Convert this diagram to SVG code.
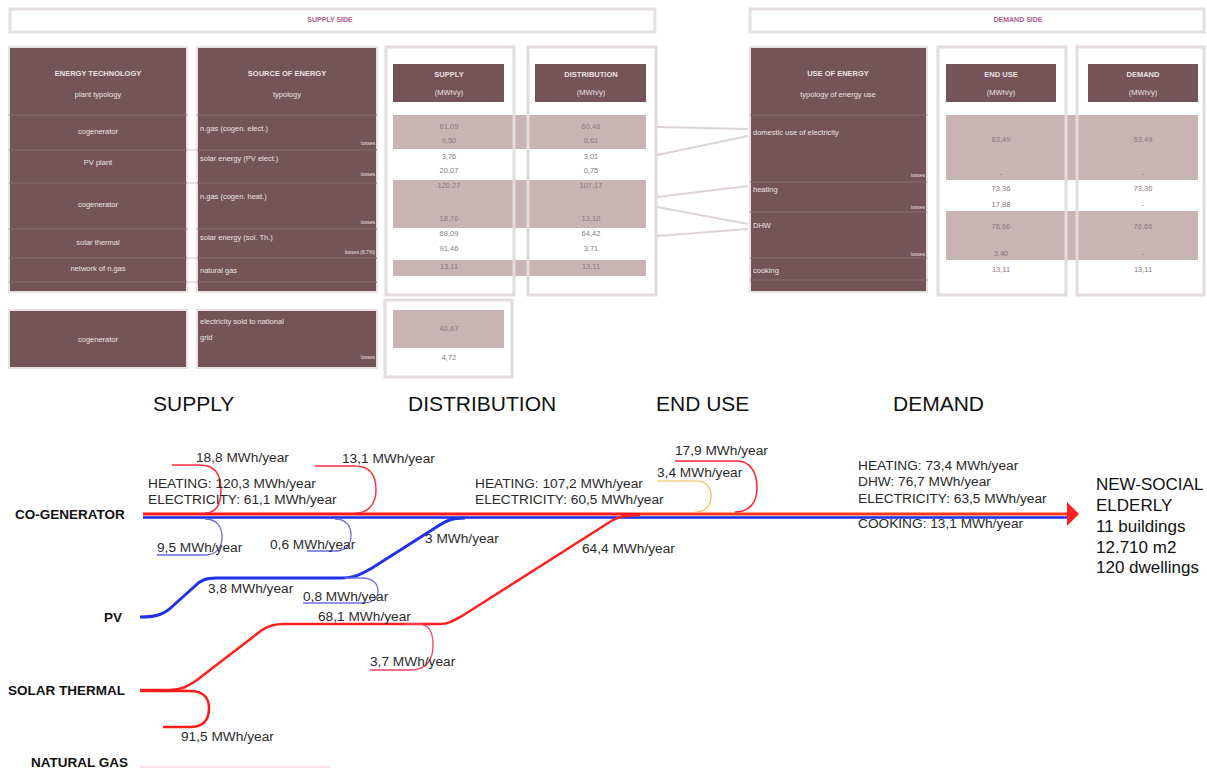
<svg xmlns="http://www.w3.org/2000/svg" width="1207" height="769" viewBox="0 0 1207 769">
<style>
.dark{fill:#745459;stroke:#e8e2e3;stroke-width:2}
.sep{stroke:#8a6e72;stroke-width:1}
.box{fill:none;stroke:#e3dbdc;stroke-width:3}
.band{fill:#c8b4b5}
.hdr{fill:#745459}
.tw{font-family:"Liberation Sans",Arial,sans-serif;font-size:7.5px;fill:#ece2e3}
.twb{font-family:"Liberation Sans",Arial,sans-serif;font-size:7.5px;fill:#ece2e3;font-weight:bold}
.ts{font-family:"Liberation Sans",Arial,sans-serif;font-size:5px;fill:#ece2e3}
.tv{font-family:"Liberation Sans",Arial,sans-serif;font-size:7.5px;fill:#8a7a80}
.ban{font-family:"Liberation Sans",Arial,sans-serif;font-size:7px;fill:#b0608a;font-weight:bold}
.h{font-family:"Liberation Sans",Arial,sans-serif;font-size:21px;fill:#111}
.n{font-family:"Liberation Sans",Arial,sans-serif;font-size:13.5px;fill:#111;font-weight:bold}
.l{font-family:"Liberation Sans",Arial,sans-serif;font-size:13.7px;fill:#2a2a2a}
.big{font-family:"Liberation Sans",Arial,sans-serif;font-size:17px;fill:#111}
.gl{stroke:#ddd3d5;stroke-width:2;fill:none}
</style>
<defs>
<marker id="ah" markerWidth="12" markerHeight="24" refX="1" refY="12" orient="auto" markerUnits="userSpaceOnUse">
<path d="M0,0 L12,12 L0,24 Z" fill="#ff2020"/>
</marker>
</defs>
<rect width="1207" height="769" fill="#fff"/>

<g id="banners">
<rect x="10" y="9" width="645" height="23" fill="#fff" stroke="#e6dfe0" stroke-width="3"/>
<text class="ban" x="330" y="22" text-anchor="middle">SUPPLY SIDE</text>
<rect x="750" y="9" width="454" height="23" fill="#fff" stroke="#e6dfe0" stroke-width="3"/>
<text class="ban" x="1018" y="22" text-anchor="middle">DEMAND SIDE</text>
</g>

<g id="table-supply">
<rect x="9" y="47" width="178" height="245" class="dark"/>
<rect x="197" y="47" width="180" height="245" class="dark"/>
<g class="sep">
<line x1="9" y1="115" x2="187" y2="115"/><line x1="9" y1="150" x2="187" y2="150"/><line x1="9" y1="183" x2="187" y2="183"/><line x1="9" y1="229" x2="187" y2="229"/><line x1="9" y1="258" x2="187" y2="258"/><line x1="9" y1="282" x2="187" y2="282"/>
<line x1="197" y1="115" x2="377" y2="115"/><line x1="197" y1="150" x2="377" y2="150"/><line x1="197" y1="183" x2="377" y2="183"/><line x1="197" y1="229" x2="377" y2="229"/><line x1="197" y1="258" x2="377" y2="258"/><line x1="197" y1="282" x2="377" y2="282"/>
</g>
<g stroke="#e6e0e1" stroke-width="2">
<line x1="187" y1="150" x2="197" y2="150"/><line x1="187" y1="183" x2="197" y2="183"/><line x1="187" y1="258" x2="197" y2="258"/><line x1="187" y1="282" x2="197" y2="282"/>
</g>
<text class="twb" x="98" y="76" text-anchor="middle">ENERGY TECHNOLOGY</text>
<text class="tw" x="98" y="97" text-anchor="middle">plant typology</text>
<text class="tw" x="98" y="134" text-anchor="middle">cogenerator</text>
<text class="tw" x="98" y="165" text-anchor="middle">PV plant</text>
<text class="tw" x="98" y="207" text-anchor="middle">cogenerator</text>
<text class="tw" x="98" y="245" text-anchor="middle">solar thermal</text>
<text class="tw" x="98" y="271" text-anchor="middle">network of n.gas</text>
<text class="twb" x="287" y="76" text-anchor="middle">SOURCE OF ENERGY</text>
<text class="tw" x="287" y="97" text-anchor="middle">typology</text>
<text class="tw" x="200" y="131">n.gas (cogen. elect.)</text>
<text class="ts" x="375" y="145" text-anchor="end">losses</text>
<text class="tw" x="200" y="161">solar energy (PV elect.)</text>
<text class="ts" x="375" y="176" text-anchor="end">losses</text>
<text class="tw" x="200" y="199">n.gas (cogen. heat.)</text>
<text class="ts" x="375" y="224" text-anchor="end">losses</text>
<text class="tw" x="200" y="240">solar energy (sol. Th.)</text>
<text class="ts" x="375" y="254" text-anchor="end">losses (6.7%)</text>
<text class="tw" x="200" y="273">natural gas</text>
</g>

<g id="table-supply-values">
<rect x="386" y="47" width="128" height="248" fill="#fff"/>
<rect x="528" y="47" width="128" height="248" fill="#fff"/>
<rect x="393" y="115" width="253" height="34" class="band"/>
<rect x="393" y="180" width="253" height="48" class="band"/>
<rect x="393" y="260" width="253" height="16" class="band"/>
<rect x="386" y="47" width="128" height="248" class="box"/>
<rect x="528" y="47" width="128" height="248" class="box"/>
<rect x="393" y="64" width="111" height="38" class="hdr"/>
<rect x="535" y="64" width="111" height="38" class="hdr"/>
<text class="twb" x="449" y="77" text-anchor="middle">SUPPLY</text>
<text class="tw" x="449" y="95" text-anchor="middle">(MWh/y)</text>
<text class="twb" x="591" y="77" text-anchor="middle">DISTRIBUTION</text>
<text class="tw" x="591" y="95" text-anchor="middle">(MWh/y)</text>
<g class="tv" text-anchor="middle">
<text x="449" y="129">61,09</text><text x="449" y="143">9,50</text><text x="449" y="159">3,76</text><text x="449" y="173">20,07</text><text x="449" y="188">120,27</text><text x="449" y="221">18,76</text><text x="449" y="236">68,09</text><text x="449" y="251">91,46</text><text x="449" y="269">13,11</text>
<text x="591" y="129">60,48</text><text x="591" y="143">0,61</text><text x="591" y="159">3,01</text><text x="591" y="173">0,75</text><text x="591" y="188">107,17</text><text x="591" y="221">13,10</text><text x="591" y="236">64,42</text><text x="591" y="251">3,71</text><text x="591" y="269">13,11</text>
</g>
</g>

<g id="table-links">
<path class="gl" d="M657,127 L748,129"/>
<path class="gl" d="M657,155 L748,136"/>
<path class="gl" d="M657,197 L748,186"/>
<path class="gl" d="M657,207 L748,224"/>
<path class="gl" d="M657,236 L748,229"/>
</g>

<g id="table-demand">
<rect x="750" y="47" width="177" height="245" class="dark"/>
<g class="sep">
<line x1="750" y1="115" x2="927" y2="115"/><line x1="750" y1="182" x2="927" y2="182"/><line x1="750" y1="212" x2="927" y2="212"/><line x1="750" y1="258" x2="927" y2="258"/><line x1="750" y1="280" x2="927" y2="280"/>
</g>
<text class="twb" x="838" y="76" text-anchor="middle">USE OF ENERGY</text>
<text class="tw" x="838" y="97" text-anchor="middle">typology of energy use</text>
<text class="tw" x="753" y="135">domestic use of electricity</text>
<text class="ts" x="925" y="177" text-anchor="end">losses</text>
<text class="tw" x="753" y="192">heating</text>
<text class="ts" x="925" y="209" text-anchor="end">losses</text>
<text class="tw" x="753" y="228">DHW</text>
<text class="ts" x="925" y="256" text-anchor="end">losses</text>
<text class="tw" x="753" y="273">cooking</text>
</g>

<g id="table-demand-values">
<rect x="938" y="47" width="128" height="248" fill="#fff"/>
<rect x="1077" y="47" width="127" height="248" fill="#fff"/>
<rect x="946" y="115" width="252" height="65" class="band"/>
<rect x="946" y="211" width="252" height="49" class="band"/>
<rect x="938" y="47" width="128" height="248" class="box"/>
<rect x="1077" y="47" width="127" height="248" class="box"/>
<rect x="946" y="64" width="110" height="38" class="hdr"/>
<rect x="1088" y="64" width="110" height="38" class="hdr"/>
<text class="twb" x="1001" y="77" text-anchor="middle">END USE</text>
<text class="tw" x="1001" y="95" text-anchor="middle">(MWh/y)</text>
<text class="twb" x="1143" y="77" text-anchor="middle">DEMAND</text>
<text class="tw" x="1143" y="95" text-anchor="middle">(MWh/y)</text>
<g class="tv" text-anchor="middle">
<text x="1001" y="142">63,49</text><text x="1001" y="176">-</text><text x="1001" y="191">73,36</text><text x="1001" y="207">17,88</text><text x="1001" y="229">76,66</text><text x="1001" y="256">3,40</text><text x="1001" y="272">13,11</text>
<text x="1143" y="142">63,49</text><text x="1143" y="176">-</text><text x="1143" y="191">73,36</text><text x="1143" y="207">-</text><text x="1143" y="229">76,66</text><text x="1143" y="256">-</text><text x="1143" y="272">13,11</text>
</g>
</g>

<g id="table-grid">
<rect x="9" y="310" width="178" height="58" class="dark"/>
<rect x="197" y="310" width="180" height="58" class="dark"/>
<text class="tw" x="98" y="342" text-anchor="middle">cogenerator</text>
<text class="tw" x="200" y="324">electricity sold to national</text>
<text class="tw" x="200" y="340">grid</text>
<text class="ts" x="375" y="359" text-anchor="end">losses</text>
<rect x="385" y="300" width="127" height="77" fill="#fff"/>
<rect x="393" y="310" width="111" height="38" class="band"/>
<rect x="385" y="300" width="127" height="77" class="box"/>
<text class="tv" x="449" y="331" text-anchor="middle">40,67</text>
<text class="tv" x="449" y="360" text-anchor="middle">4,72</text>
</g>

<g id="headings">
<text class="h" x="153" y="411">SUPPLY</text>
<text class="h" x="408" y="411">DISTRIBUTION</text>
<text class="h" x="656" y="411">END USE</text>
<text class="h" x="893" y="411">DEMAND</text>
</g>

<g id="connectors" fill="none">
<path d="M143,517.5 L1068,517.5" stroke="#1a2ee8" stroke-width="2.5"/>
<path d="M143,514 L640,514" stroke="#ff1a1a" stroke-width="3"/>
<path d="M640,514 L1068,514" stroke="#ff3a18" stroke-width="3" marker-end="url(#ah)"/>
<path d="M205,513 C217,513 221,503 221,490 C221,475 215,465 200,465 L172,465" stroke="#ff3040" stroke-width="1.5"/>
<path d="M356,513 C369,513 376,503 376,490 C376,476 370,466 355,466 L315,466" stroke="#ff3040" stroke-width="1.5"/>
<path d="M205,519 C216,519 222,526 222,537 C222,548 216,555 205,555 L157,555" stroke="#6a6ae8" stroke-width="1.3"/>
<path d="M335,519 C346,519 351,526 351,535 C351,545 346,551 335,551 L307,551" stroke="#6a6ae8" stroke-width="1.3"/>
<path d="M140,617 C158,617 165,614 175,604 L195,586 C201,580 206,578 216,578 L340,578 C354,578 360,575 372,568 L435,528 C447,520 452,518 465,518" stroke="#1f32e6" stroke-width="3"/>
<path d="M345,578 L362,578 C372,578 378,583 378,591 C378,599 372,603 362,603 L303,603" stroke="#7070e8" stroke-width="1.3"/>
<path d="M140,690 L170,690 C182,690 188,686 197,680 L262,630 C268,626 273,624 283,624 L440,624 C448,624 453,621 462,616 L605,525 C615,518 622,515 640,515" stroke="#ff2020" stroke-width="2.5"/>
<path d="M405,624 L418,624 C428,624 433,630 433,645 C433,662 425,670 410,670 L370,670" stroke="#f04060" stroke-width="1.3"/>
<path d="M140,691 L190,691 C203,691 209,698 209,708 C209,720 203,727 190,727 L163,727" stroke="#ff1a1a" stroke-width="2.5"/>
<path d="M140,767 L330,767" stroke="#fbe1e5" stroke-width="2"/>
<path d="M735,512 C750,512 757,502 757,488 C757,472 750,461 737,461 L675,461" stroke="#ff2030" stroke-width="1.5"/>
<path d="M695,512 C706,512 711,505 711,496 C711,487 706,481 697,481 L657,481" stroke="#f3b84a" stroke-width="1.2"/>
</g>

<g id="node-cogenerator"><text class="n" x="15" y="519">CO-GENERATOR</text></g>
<g id="node-pv"><text class="n" x="104" y="622">PV</text></g>
<g id="node-solar"><text class="n" x="8" y="695">SOLAR THERMAL</text></g>
<g id="node-gas"><text class="n" x="31" y="767">NATURAL GAS</text></g>
<g id="node-demand">
<text class="big" x="1096" y="490">NEW-SOCIAL</text>
<text class="big" x="1096" y="511">ELDERLY</text>
<text class="big" x="1096" y="532">11 buildings</text>
<text class="big" x="1096" y="553">12.710 m2</text>
<text class="big" x="1096" y="573">120 dwellings</text>
</g>

<g id="labels">
<text class="l" x="196" y="462">18,8 MWh/year</text>
<text class="l" x="148" y="488">HEATING: 120,3 MWh/year</text>
<text class="l" x="148" y="504">ELECTRICITY: 61,1 MWh/year</text>
<text class="l" x="342" y="463">13,1 MWh/year</text>
<text class="l" x="157" y="552">9,5 MWh/year</text>
<text class="l" x="270" y="549">0,6 MWh/year</text>
<text class="l" x="208" y="593">3,8 MWh/year</text>
<text class="l" x="303" y="601">0,8 MWh/year</text>
<text class="l" x="318" y="621">68,1 MWh/year</text>
<text class="l" x="370" y="666">3,7 MWh/year</text>
<text class="l" x="181" y="741">91,5 MWh/year</text>
<text class="l" x="425" y="543">3 MWh/year</text>
<text class="l" x="475" y="488">HEATING: 107,2 MWh/year</text>
<text class="l" x="475" y="504">ELECTRICITY: 60,5 MWh/year</text>
<text class="l" x="582" y="553">64,4 MWh/year</text>
<text class="l" x="675" y="455">17,9 MWh/year</text>
<text class="l" x="657" y="477">3,4 MWh/year</text>
<text class="l" x="858" y="470">HEATING: 73,4 MWh/year</text>
<text class="l" x="858" y="486">DHW: 76,7 MWh/year</text>
<text class="l" x="858" y="503">ELECTRICITY: 63,5 MWh/year</text>
<text class="l" x="858" y="528">COOKING: 13,1 MWh/year</text>
</g>
</svg>
